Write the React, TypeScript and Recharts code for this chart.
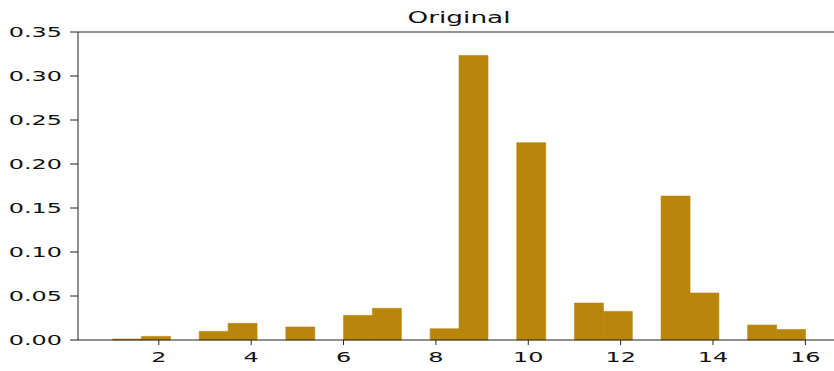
import { BarChart, Bar, XAxis, YAxis, ReferenceLine } from "recharts";

// histogram bins (width 0.625 from 1 to 16), centres and density
const binCenters = [
  1.3125, 1.9375, 2.5625, 3.1875, 3.8125, 4.4375, 5.0625, 5.6875,
  6.3125, 6.9375, 7.5625, 8.1875, 8.8125, 9.4375, 10.0625, 10.6875,
  11.3125, 11.9375, 12.5625, 13.1875, 13.8125, 14.4375, 15.0625, 15.6875,
];
const densities = [
  0.0011, 0.0041, 0, 0.0098, 0.0189, 0, 0.0148, 0,
  0.028, 0.036, 0, 0.0128, 0.3234, 0, 0.2242, 0,
  0.042, 0.0325, 0, 0.1636, 0.0534, 0, 0.017, 0.012,
];
const xTicks = [2, 4, 6, 8, 10, 12, 14, 16];
const yTicks = [0, 0.05, 0.1, 0.15, 0.2, 0.25, 0.3, 0.35];
const title = "Original";

const data = binCenters.map((c, i) => ({ center: c, density: densities[i] }));

const FONT = "DejaVu Sans";
const STRETCH = 1.65;

const XTick = ({ x, y, payload }: any) => (
  <text
    transform={`translate(${x},${y}) scale(${STRETCH},1)`}
    textAnchor="middle"
    dominantBaseline="hanging"
    fontFamily={FONT}
    fontSize={14.5}
    fill="#111"
  >
    {payload.value}
  </text>
);

const YTick = ({ x, y, payload }: any) => (
  <text
    transform={`translate(${x},${y}) scale(${STRETCH},1)`}
    textAnchor="end"
    dominantBaseline="central"
    fontFamily={FONT}
    fontSize={14.5}
    fill="#111"
  >
    {Number(payload.value).toFixed(2)}
  </text>
);

export default function App() {
  return (
    <div
      style={{
        position: "absolute",
        left: 0,
        top: 0,
        width: 834,
        height: 371,
        overflow: "hidden",
        background: "#fff",
      }}
    >
      <svg
        width={834}
        height={32}
        style={{ position: "absolute", left: 0, top: 0 }}
      >
        <text
          transform={`translate(459,23) scale(1.7,1)`}
          textAnchor="middle"
          fontFamily={FONT}
          fontSize={15.5}
          fill="#111"
        >
          {title}
        </text>
      </svg>
      <BarChart
        width={840}
        height={371}
        data={data}
        margin={{ top: 32, right: 0, bottom: 0, left: 0 }}
        barCategoryGap={0}
        barGap={0}
        style={{ position: "absolute", left: 0, top: 0 }}
      >
        <XAxis
          dataKey="center"
          type="number"
          domain={[0.25, 16.75]}
          ticks={xTicks}
          interval={0}
          allowDataOverflow
          height={31}
          stroke="#222"
          tickSize={5}
          tickMargin={6}
          tick={<XTick />}
        />
        <YAxis
          type="number"
          domain={[0, 0.35]}
          ticks={yTicks}
          interval={0}
          width={78}
          stroke="#222"
          tickSize={8}
          tickMargin={8}
          tick={<YTick />}
        />
        <ReferenceLine y={0.35} stroke="#222" ifOverflow="extendDomain" />
        <Bar
          dataKey="density"
          fill="#b8860b"
          stroke="#b8860b"
          strokeWidth={0.6}
          isAnimationActive={false}
        />
      </BarChart>
    </div>
  );
}
